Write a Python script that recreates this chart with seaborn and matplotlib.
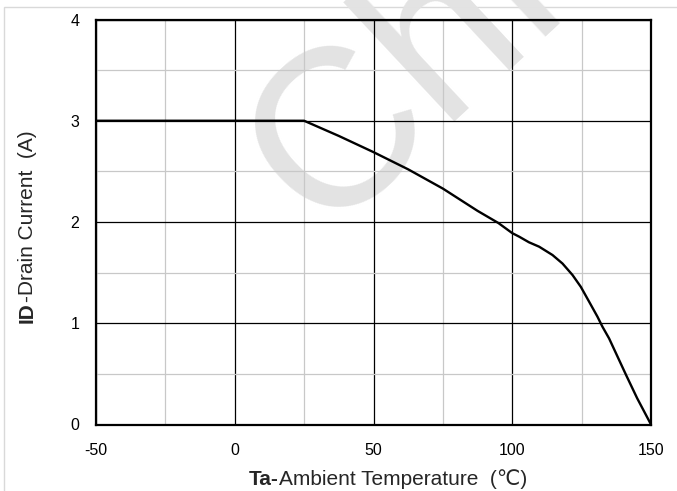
import matplotlib
matplotlib.use("Agg")
import matplotlib.pyplot as plt
from matplotlib.ticker import MultipleLocator
from matplotlib.patches import Rectangle
import seaborn as sns
import pandas as pd

# ---- data ----
temperature = [-50, 25, 37.5, 50, 62.5, 75, 87.5, 95, 100, 102.5, 106, 109.7, 114.5, 118.1, 121.7, 124.7, 127.7, 130.7, 132.5, 134.9, 141, 145, 150]
drain_current = [3.0, 3.0, 2.85, 2.69, 2.52, 2.33, 2.11, 1.99, 1.89, 1.855, 1.80, 1.756, 1.674, 1.59, 1.477, 1.36, 1.213, 1.065, 0.966, 0.85, 0.49, 0.26, 0.0]
x_ticks = [-50, 0, 50, 100, 150]
y_ticks = [0, 1, 2, 3, 4]

sns.set_theme(style="white")
FAM = ["Liberation Sans", "DejaVu Sans"]
plt.rcParams["font.family"] = FAM
plt.rcParams["axes.unicode_minus"] = False

W, H = 677, 491
fig = plt.figure(figsize=(W / 100, H / 100), dpi=100)
fig.patch.set_facecolor("white")

# light grey frame around the chart area (partially visible)
fig.add_artist(Rectangle((4 / W, -0.05), 1.2, (1 - 7 / H) + 0.05, transform=fig.transFigure,
                         fill=False, ec="#d9d9d9", lw=1.0, zorder=-2))

# watermark
fig.text(322 / W, 256 / H, "Chi", fontsize=162, color="#e3e3e3", rotation=43,
         rotation_mode="anchor", ha="left", va="baseline", zorder=-1, family=FAM)

ax = fig.add_axes([96 / W, 66.5 / H, (651 - 96) / W, (424.5 - 19.5) / H])
ax.patch.set_alpha(0)

df = pd.DataFrame({"T": temperature, "I": drain_current})
sns.lineplot(data=df, x="T", y="I", ax=ax, color="black", lw=1.7, estimator=None, sort=False, zorder=5)

ax.set_xlim(-50, 150)
ax.set_ylim(0, 4)
ax.set_xticks(x_ticks)
ax.set_yticks(y_ticks)
ax.xaxis.set_minor_locator(MultipleLocator(25))
ax.yaxis.set_minor_locator(MultipleLocator(0.5))
ax.set_axisbelow(True)
ax.grid(which="minor", color="#c8c8c8", lw=0.9)
ax.grid(which="major", color="black", lw=0.9)
ax.tick_params(which="both", length=0)
ax.tick_params(axis="x", pad=13, labelsize=11.5, colors="black")
ax.tick_params(axis="y", pad=12, labelsize=11.5, colors="black")
for s in ax.spines.values():
    s.set_visible(True)
    s.set_color("black")
    s.set_linewidth(1.6)
ax.set_xlabel("")
ax.set_ylabel("")

LS = 15
# x label: bold "Ta-" + regular rest
t1 = fig.text(249 / W, 6 / H, "Ta-", fontsize=LS, fontweight="bold", ha="left", va="baseline", family=FAM)
ax.annotate("Ambient Temperature  (\u2103)", xy=(1, 0), xycoords=t1, ha="left", va="bottom",
            fontsize=LS, family=FAM, annotation_clip=False)

# y label: bold "ID" + regular rest, rotated
t2 = fig.text(33 / W, (H - 323) / H, "ID", fontsize=LS, fontweight="bold", rotation=90,
              rotation_mode="anchor", ha="left", va="baseline", family=FAM)
ax.annotate("-Drain Current  (A)", xy=(1, 1), xycoords=t2, rotation=90, rotation_mode="anchor",
            ha="left", va="bottom", fontsize=LS, family=FAM, annotation_clip=False)

fig.savefig("out.png", dpi=100, facecolor="white")
